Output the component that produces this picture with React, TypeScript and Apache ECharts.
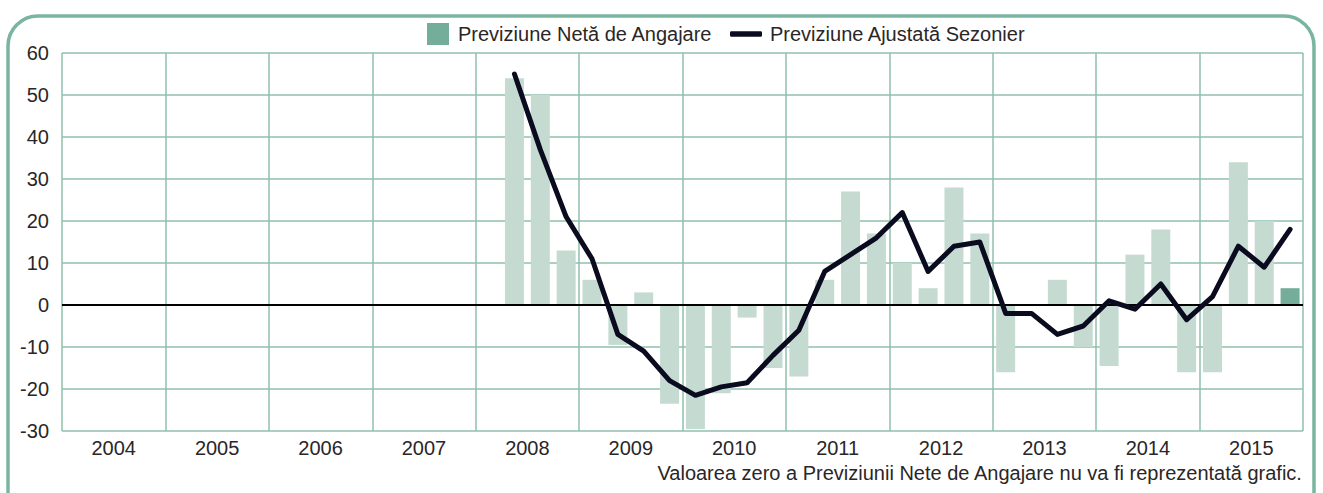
import React, { useEffect, useRef } from "react";
import * as echarts from "echarts";

const years = ["2004", "2005", "2006", "2007", "2008", "2009", "2010", "2011", "2012", "2013", "2014", "2015"];
const quarterNames = ["T1", "T2", "T3", "T4"];
const firstSlot = 17;
const netValues = [54, 50, 13, 6, -9.5, 3, -23.5, -29.5, -21, -3, -15, -17, 6, 27, 17, 10, 4, 28, 17, -16, 0, 6, -10, -14.5, 12, 18, -16, -16, 34, 20, 4];
const adjustedValues = [55, 37, 21, 11, -7, -11, -18, -21.5, -19.5, -18.5, -12, -6, 8, 12, 16, 22, 8, 14, 15, -2, -2, -7, -5, 1, -1, 5, -3.5, 2, 14, 9, 18];
const yTicks = { min: -30, max: 60, interval: 10 };

const NET = "Previziune Netă de Angajare";
const ADJ = "Previziune Ajustată Sezonier";
const FOOT = "Valoarea zero a Previziunii Nete de Angajare nu va fi reprezentată grafic.";

const FONT = "'Liberation Sans', Arial, Helvetica, sans-serif";
const FS = 20;
const TEXT = "#2a2627";
const GRID = "#8fc1ad";
const BAR_LIGHT = "#c5dbd2";
const BAR_DARK = "#74ad99";
const LINE = "#0b0b1f";

export default function App() {
  const ref = useRef<HTMLDivElement>(null);
  useEffect(() => {
    if (!ref.current) return;
    const chart = echarts.init(ref.current, undefined, { renderer: "svg" });
    const quarters: string[] = [];
    years.forEach((y) => quarterNames.forEach((q) => quarters.push(y + " " + q)));
    const netData: any[] = quarters.map(() => null);
    const adjData: any[] = quarters.map(() => null);
    netValues.forEach((v, i) => {
      const last = i === netValues.length - 1;
      netData[firstSlot + i] = { value: v, itemStyle: { color: last ? BAR_DARK : BAR_LIGHT } };
    });
    adjustedValues.forEach((v, i) => {
      adjData[firstSlot + i] = v;
    });

    chart.setOption({
      animation: false,
      textStyle: { fontFamily: FONT },
      grid: { left: 62, right: 20, top: 53, bottom: 62, containLabel: false },
      legend: [
        {
          data: [{ name: NET, icon: "rect", itemStyle: { color: BAR_DARK } }],
          left: 427,
          top: 23,
          padding: 0,
          itemWidth: 22,
          itemHeight: 22,
          textStyle: { fontSize: FS, color: TEXT, fontFamily: FONT, padding: [0, 0, 0, 4] },
          selectedMode: false,
        },
        {
          data: [{ name: ADJ, icon: "roundRect", itemStyle: { color: LINE } }],
          left: 730,
          top: 24,
          padding: 0,
          itemWidth: 32,
          itemHeight: 5.5,
          textStyle: { fontSize: FS, color: TEXT, fontFamily: FONT, padding: [0, 0, 0, 3] },
          selectedMode: false,
        },
      ],
      xAxis: [
        {
          type: "category",
          data: years,
          boundaryGap: true,
          axisLine: { show: false },
          axisTick: { show: false },
          axisLabel: { interval: 0, margin: 7, fontSize: FS, color: TEXT, fontFamily: FONT },
          splitLine: { show: true, interval: 0, lineStyle: { color: GRID, width: 1.5 } },
        },
        {
          type: "category",
          data: quarters,
          boundaryGap: true,
          show: false,
        },
      ],
      yAxis: {
        type: "value",
        min: yTicks.min,
        max: yTicks.max,
        interval: yTicks.interval,
        axisLine: { show: false },
        axisTick: { show: false },
        axisLabel: { margin: 13, fontSize: FS, color: TEXT, fontFamily: FONT },
        splitLine: { show: true, lineStyle: { color: GRID, width: 1.5 } },
      },
      series: [
        {
          name: NET,
          type: "bar",
          xAxisIndex: 1,
          barWidth: 19,
          data: netData,
          itemStyle: { color: BAR_LIGHT },
          markLine: {
            silent: true,
            symbol: "none",
            label: { show: false },
            lineStyle: { color: "#000000", width: 2, type: "solid" },
            data: [{ yAxis: 0 }],
          },
        },
        {
          name: ADJ,
          type: "line",
          xAxisIndex: 1,
          data: adjData,
          showSymbol: false,
          symbol: "none",
          lineStyle: { color: LINE, width: 5, cap: "round", join: "round" },
          itemStyle: { color: LINE },
          z: 5,
        },
      ],
      graphic: [
        {
          type: "rect",
          shape: { x: 8, y: 16, width: 1306, height: 520, r: 30 },
          style: { fill: "none", stroke: "#79b59f", lineWidth: 3.5 },
          silent: true,
          z: -1,
        },
        {
          type: "text",
          right: 20,
          top: 463,
          style: { text: FOOT, fontSize: FS, fill: TEXT, fontFamily: FONT },
          silent: true,
        },
      ],
    });
    return () => chart.dispose();
  }, []);
  return <div ref={ref} style={{ position: "absolute", left: 0, top: 0, width: 1323, height: 493 }} />;
}
